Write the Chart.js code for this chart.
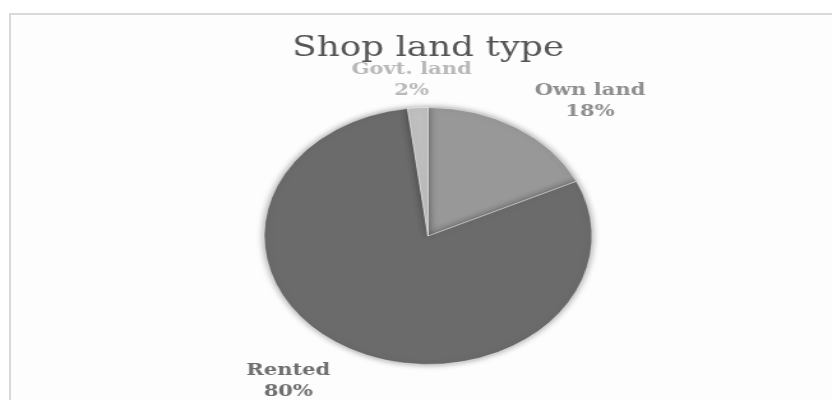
<!DOCTYPE html>
<html>
<head>
<meta charset="utf-8">
<script src="https://cdn.jsdelivr.net/npm/chart.js@4"></script>
<style>
  html, body { margin: 0; padding: 0; background: #ffffff; width: 832px; height: 400px; overflow: hidden; }
  #frame { position: absolute; left: 9px; top: 13px; width: 840px; height: 420px; border: 2px solid #d9d9d9; background: #fdfdfd; box-sizing: border-box; }
  #wrap { position: absolute; left: 0; top: 0; width: 652px; height: 400px; transform: scaleX(1.276); transform-origin: 0 0; }
</style>
</head>
<body>
<div id="frame"></div>
<div id="wrap"><canvas id="c"></canvas></div>
<script>
const chartTitle = 'Shop land type';
const categories = ['Own land', 'Rented', 'Govt. land'];
const shares = [18, 80, 2];
const sliceColors = ['#989898', '#6b6b6b', '#c0c0c0'];
const labelColors = ['#8e8e8e', '#6e6e6e', '#b8b8b8'];

const labelPlugin = {
  id: 'outsideLabels',
  afterDatasetsDraw(chart, args, opts) {
    const ctx = chart.ctx;
    const meta = chart.getDatasetMeta(0);
    const total = shares.reduce((a, b) => a + b, 0);
    ctx.save();
    ctx.font = opts.titleFont;
    ctx.fillStyle = opts.titleColor;
    ctx.textAlign = 'center';
    ctx.textBaseline = 'alphabetic';
    ctx.fillText(chartTitle, meta.data[0].x, opts.titleY);
    ctx.font = opts.labelFont;
    meta.data.forEach((arc, i) => {
      const mid = (arc.startAngle + arc.endAngle) / 2;
      const s = Math.cos(mid), c = Math.sin(mid);
      const r = arc.outerRadius + opts.gap;
      const px = arc.x + r * s, py = arc.y + r * c;
      const l1 = categories[i];
      const l2 = Math.round(shares[i] / total * 100) + '%';
      const hw = Math.max(ctx.measureText(l1).width, ctx.measureText(l2).width) / 2;
      const hh = opts.lineH;
      const k = Math.max(-1, Math.min(1, s * 3));
      const nd = opts.nudges[i] || [0, 0];
      const lx = px + k * hw + nd[0];
      const ly = py + c * hh + nd[1];
      ctx.fillStyle = labelColors[i];
      ctx.textAlign = 'center';
      ctx.textBaseline = 'middle';
      ctx.fillText(l1, lx, ly - opts.lineH / 2);
      ctx.fillText(l2, lx, ly + opts.lineH / 2);
    });
    ctx.restore();
  }
};

const shadowPlugin = {
  id: 'pieShadow',
  beforeDatasetsDraw(chart) {
    const ctx = chart.ctx;
    ctx.save();
    ctx.shadowColor = 'rgba(0,0,0,0.4)';
    ctx.shadowBlur = 6;
    ctx.shadowOffsetX = 0;
    ctx.shadowOffsetY = 0;
  },
  afterDatasetsDraw(chart) {
    chart.ctx.restore();
  }
};

new Chart(document.getElementById('c'), {
  type: 'pie',
  data: {
    labels: categories,
    datasets: [{
      data: shares,
      backgroundColor: sliceColors,
      borderColor: 'rgba(255,255,255,0.45)',
      borderWidth: 1
    }]
  },
  options: {
    responsive: true,
    maintainAspectRatio: false,
    animation: false,
    layout: { padding: { top: 107, bottom: 35, left: 19, right: 0 } },
    plugins: {
      legend: { display: false },
      title: { display: false },
      tooltip: { enabled: false },
      outsideLabels: {
        titleFont: '28px "DejaVu Serif"',
        titleColor: '#555555',
        titleY: 56,
        labelFont: 'bold 16.5px "DejaVu Serif"',
        lineH: 21,
        gap: 16,
        nudges: [[6, 5], [-7, 0], [5, 9]]
      }
    }
  },
  plugins: [shadowPlugin, labelPlugin]
});
</script>
</body>
</html>
